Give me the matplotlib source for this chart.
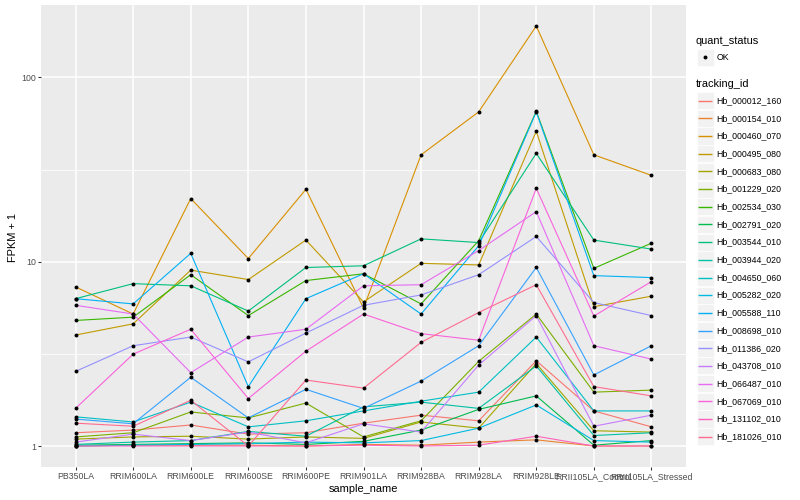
import numpy as np
import matplotlib
matplotlib.use('Agg')
import matplotlib.pyplot as plt
from matplotlib.patches import Rectangle
from matplotlib.ticker import FixedLocator, NullFormatter

plt.rcParams['font.family'] = ['Liberation Sans', 'DejaVu Sans']

samples = ['PB350LA', 'RRIM600LA', 'RRIM600LE', 'RRIM600SE', 'RRIM600PE', 'RRIM901LA',
           'RRIM928BA', 'RRIM928LA', 'RRIM928LE', 'RRII105LA_Control', 'RRII105LA_Stressed']

tracking_ids = ['Hb_000012_160', 'Hb_000154_010', 'Hb_000460_070', 'Hb_000495_080',
                'Hb_000683_080', 'Hb_001229_020', 'Hb_002534_030', 'Hb_002791_020',
                'Hb_003544_010', 'Hb_003944_020', 'Hb_004650_060', 'Hb_005282_020',
                'Hb_005588_110', 'Hb_008698_010', 'Hb_011386_020', 'Hb_043708_010',
                'Hb_066487_010', 'Hb_067069_010', 'Hb_131102_010', 'Hb_181026_010']

colors = ['#F8766D', '#EA8331', '#D89000', '#C09B00', '#A3A500', '#7CAE00', '#39B600',
          '#00BB4E', '#00BF7D', '#00C1A3', '#00BFC4', '#00BAE0', '#00B0F6', '#35A2FF',
          '#9590FF', '#C77CFF', '#E76BF3', '#FA62DB', '#FF62BC', '#FF6C91']

Hb_000012_160 = [1.18, 1.22, 1.30, 1.16, 1.18, 1.33, 1.47, 1.37, 2.90, 1.55, 1.27]
Hb_000154_010 = [1.00, 1.01, 1.01, 1.01, 1.00, 1.02, 1.01, 1.05, 1.08, 1.00, 1.00]
Hb_000460_070 = [7.3, 5.2, 22.0, 10.4, 24.7, 5.6, 38.0, 65.0, 190.0, 38.0, 29.4]
Hb_000495_080 = [4.0, 4.6, 9.0, 8.0, 13.1, 6.05, 9.8, 9.6, 51.0, 5.7, 6.5]
Hb_000683_080 = [1.09, 1.12, 1.13, 1.09, 1.12, 1.10, 1.35, 1.25, 2.80, 1.21, 1.19]
Hb_001229_020 = [1.12, 1.18, 1.53, 1.42, 1.71, 1.12, 1.37, 2.88, 5.20, 1.96, 2.01]
Hb_002534_030 = [4.8, 5.0, 8.5, 5.1, 7.9, 8.6, 5.9, 13.0, 65.5, 9.2, 12.6]
Hb_002791_020 = [1.01, 1.02, 1.03, 1.04, 1.02, 1.06, 1.22, 1.58, 1.87, 1.01, 1.07]
Hb_003544_010 = [6.3, 7.6, 7.4, 5.4, 9.3, 9.5, 13.3, 12.7, 38.7, 13.1, 11.7]
Hb_003944_020 = [1.02, 1.05, 1.07, 1.20, 1.13, 1.63, 1.73, 1.60, 2.72, 1.14, 1.18]
Hb_004650_060 = [1.44, 1.35, 1.73, 1.27, 1.37, 1.55, 1.75, 1.96, 3.90, 1.55, 1.55]
Hb_005282_020 = [1.00, 1.01, 1.02, 1.03, 1.05, 1.04, 1.07, 1.25, 1.67, 1.07, 1.05]
Hb_005588_110 = [6.3, 5.9, 11.1, 2.1, 6.3, 8.6, 5.2, 12.2, 65.0, 8.4, 8.2]
Hb_008698_010 = [1.40, 1.32, 2.36, 1.42, 2.03, 1.60, 2.25, 3.50, 9.30, 2.43, 3.50]
Hb_011386_020 = [2.54, 3.5, 3.9, 2.86, 4.1, 5.8, 6.6, 8.5, 13.7, 6.0, 5.1]
Hb_043708_010 = [1.05, 1.16, 1.07, 1.19, 1.04, 1.32, 1.19, 2.75, 5.10, 1.28, 1.47]
Hb_066487_010 = [5.8, 5.2, 2.5, 3.9, 4.3, 7.4, 7.5, 11.5, 18.7, 3.5, 2.96]
Hb_067069_010 = [1.6, 3.15, 4.3, 1.81, 3.27, 5.2, 4.07, 3.75, 25.0, 5.07, 7.8]
Hb_131102_010 = [1.00, 1.00, 1.00, 1.00, 1.00, 1.01, 1.00, 1.01, 1.13, 1.00, 1.00]
Hb_181026_010 = [1.33, 1.28, 1.77, 1.00, 2.28, 2.06, 3.65, 5.30, 7.50, 2.10, 1.87]

series = [Hb_000012_160, Hb_000154_010, Hb_000460_070, Hb_000495_080, Hb_000683_080,
          Hb_001229_020, Hb_002534_030, Hb_002791_020, Hb_003544_010, Hb_003944_020,
          Hb_004650_060, Hb_005282_020, Hb_005588_110, Hb_008698_010, Hb_011386_020,
          Hb_043708_010, Hb_066487_010, Hb_067069_010, Hb_131102_010, Hb_181026_010]

yticks = [1, 10, 100]
ytick_labels = ['1', '10', '100']

W, H = 800, 500
L, R, T, B = 41, 686, 5, 467

fig = plt.figure(figsize=(W / 100, H / 100), dpi=100)
fig.patch.set_facecolor('white')
ax = fig.add_axes([L / W, 1 - B / H, (R - L) / W, (B - T) / H])
ax.set_facecolor('#EBEBEB')
ax.set_yscale('log')

x = np.arange(len(samples))
for vals, col in zip(series, colors):
    ax.plot(x, vals, color=col, lw=0.8, zorder=3, solid_capstyle='butt')
for vals in series:
    ax.scatter(x, vals, s=8, color='black', zorder=4, linewidths=0)

allv = np.log10(np.concatenate([np.array(s) for s in series]))
lo, hi = allv.min(), allv.max()
pad = 0.05 * (hi - lo)
ax.set_ylim(10 ** (lo - pad), 10 ** (hi + pad))
ax.set_xlim(-0.6, len(samples) - 0.4)

ax.set_yticks(yticks)
ax.set_yticklabels(ytick_labels)
ax.yaxis.set_minor_locator(FixedLocator([10 ** 0.5, 10 ** 1.5]))
ax.yaxis.set_minor_formatter(NullFormatter())
ax.set_xticks(x)
ax.set_xticklabels(samples)

ax.set_axisbelow(True)
ax.grid(which='major', color='white', lw=1.1)
ax.grid(which='minor', axis='y', color='white', lw=0.55)
for s in ax.spines.values():
    s.set_visible(False)
ax.tick_params(which='major', length=2.0, width=0.75, color='#333333',
               labelcolor='#4D4D4D', labelsize=6.3, pad=1.6)
ax.tick_params(which='minor', length=0)

fig.text(13 / W, 1 - 237 / H, 'FPKM + 1', rotation=90, ha='center', va='center',
         fontsize=7.9, color='black')
fig.text(363 / W, 1 - 489 / H, 'sample_name', ha='center', va='center',
         fontsize=7.9, color='black')

# legend
leg = fig.add_axes([0, 0, 1, 1])
leg.set_xlim(0, W)
leg.set_ylim(H, 0)
leg.axis('off')
leg.patch.set_alpha(0)

leg.text(696, 40.7, 'quant_status', fontsize=7.9, ha='left', va='center')
leg.add_patch(Rectangle((697, 48.5), 16.5, 17, facecolor='#F2F2F2', edgecolor='white',
                        lw=0.5, zorder=1))
leg.scatter([705.25], [57], s=8, color='black', linewidths=0, zorder=3)
leg.text(716.5, 57, 'OK', fontsize=6.3, ha='left', va='center')

leg.text(696, 84, 'tracking_id', fontsize=7.9, ha='left', va='center')
for i, (name, col) in enumerate(zip(tracking_ids, colors)):
    yc = 100.7 + i * 17.68
    leg.add_patch(Rectangle((697, yc - 8.6), 16.5, 17.2, facecolor='#F2F2F2',
                            edgecolor='white', lw=0.5, zorder=1))
    leg.plot([698.2, 712.3], [yc, yc], color=col, lw=1.0, zorder=3,
             solid_capstyle='butt')
    leg.text(716.5, yc, name, fontsize=6.3, ha='left', va='center')

fig.savefig('out.png', dpi=100)
